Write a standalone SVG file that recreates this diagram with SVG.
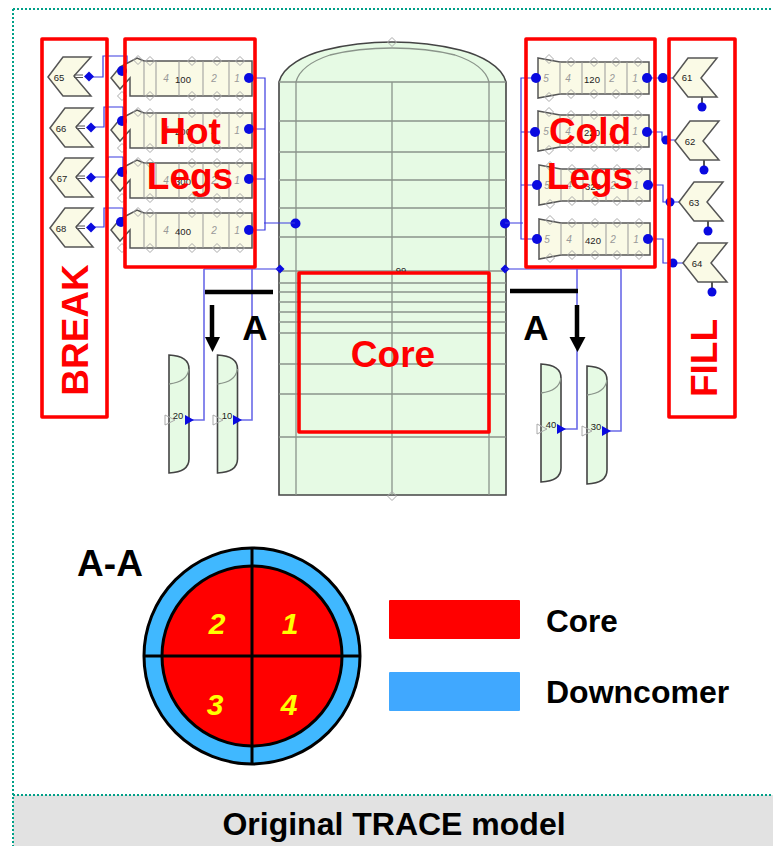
<svg xmlns="http://www.w3.org/2000/svg" xmlns:xlink="http://www.w3.org/1999/xlink" width="773" height="846" viewBox="0 0 773 846">
<style>
text{font-family:"Liberation Sans",Arial,sans-serif}
.outline{fill:#e6fae4;stroke:#444;stroke-width:1.6}
.grid{fill:none;stroke:#8a948a;stroke-width:1.3}
.pipe{fill:#fafae6;stroke:#555;stroke-width:1.5}
.cell{fill:none;stroke:#999;stroke-width:1}
.dia{fill:none;stroke:#aaa;stroke-width:1}
.wire{fill:none;stroke:#3a3ae0;stroke-width:1.2}
.wire2{fill:none;stroke:#6a6ae8;stroke-width:1.6}
.dot{fill:#0a0ae0}
.tag{font-size:9.5px;fill:#222;text-anchor:middle}
.num{font-size:10px;fill:#999;font-style:italic;text-anchor:middle}
.box{fill:none;stroke:#f00;stroke-width:3.6;stroke-linejoin:round}
.red{font-size:37px;font-weight:bold;fill:#f00;text-anchor:middle}
.blk{font-weight:bold;fill:#000}
.bar{fill:none;stroke:#000;stroke-width:4.5}
.sec{font-size:30px;font-weight:bold;font-style:italic;fill:#ff0;text-anchor:middle}
.frame{fill:none;stroke:#00a088;stroke-width:2;stroke-dasharray:2 2}
.xl{stroke:#000;stroke-width:3;fill:none}
</style>
<defs>
<path id="d" class="dia" d="M0,-4.5L4.5,0L0,4.5L-4.5,0Z"/>
<circle id="b" class="dot" r="5"/>
<g id="hot">
<path class="pipe" d="M-10,6L7,-3L14,0H122V35H0V17L-10,28L-19,17Z"/>
<path class="cell" d="M14,0V35M26,0V35M49,0V35M73,0V35M99,0V35"/>
<g>
<use href="#d" x="20" y="0"/><use href="#d" x="62" y="0"/><use href="#d" x="87" y="0"/><use href="#d" x="110" y="0"/><use href="#d" x="8" y="-1"/>
<use href="#d" x="-8" y="35"/><use href="#d" x="20" y="35"/><use href="#d" x="62" y="35"/><use href="#d" x="87" y="35"/><use href="#d" x="110" y="35"/>
</g>
<text class="num" x="36" y="21">4</text><text class="num" x="84" y="21">2</text><text class="num" x="107" y="21">1</text>
</g>
<g id="cold">
<path class="pipe" d="M0,0L22,4H111V36H22L0,40Z"/>
<path class="cell" d="M22,4V36M44,4V36M67,4V36M89,4V36"/>
<use href="#d" x="11" y="1"/><use href="#d" x="33" y="4"/><use href="#d" x="56" y="4"/><use href="#d" x="78" y="4"/><use href="#d" x="100" y="4"/>
<use href="#d" x="11" y="39"/><use href="#d" x="33" y="36"/><use href="#d" x="56" y="36"/><use href="#d" x="78" y="36"/><use href="#d" x="100" y="36"/>
<text class="num" x="8" y="24">5</text><text class="num" x="30" y="24">4</text><text class="num" x="74" y="24">2</text><text class="num" x="97" y="24">1</text>
</g>
<g id="brk">
<path class="pipe" d="M0,20L15,0H43L26,19L43,39H15Z"/>
<path d="M26,18H35M26,20.500H35" fill="none" stroke="#555" stroke-width="1"/>
<path class="dot" d="M41,14.500L46,19.500L41,24.500L36,19.500Z"/>
</g>
<g id="fil">
<path class="pipe" d="M0,20L15,0H44L28,20L44,39H15Z"/>
<path d="M29,39V47" fill="none" stroke="#555" stroke-width="2"/>
<circle class="dot" cx="29" cy="49" r="4.500"/>
</g>
<g id="tank">
<path class="outline" d="M0,0Q20,1 20,14V104Q20,117 0,118Z"/>
<path class="grid" d="M0,29Q18,27 20,14"/>
</g>
<g id="tri">
<path d="M-20,-5V5L-10,0Z" fill="none" stroke="#aaa"/>
<path class="dot" d="M0,-5V5L9,0Z"/>
</g>
</defs>

<g id="vessel">
<path class="outline" d="M279,495V82C283,66 305,55 325,50C345,45 370,42 392,42C414,42 440,45 460,50C480,55 502,66 506,82V495Z"/>
<path class="grid" d="M296,495V82C299,70 312,61 330,55C350,50 372,48 392,48C412,48 435,50 455,55C473,61 486,70 489,82V495"/>
<path class="grid" d="M392,82V495M279,82H506M279,121H506M279,152H506M279,180H506M279,208H506M279,237H506M279,271H506M279,283H506M279,292H506M279,302H506M279,312H506M279,322H506M279,333H506M279,364H506M279,394H506M279,437H506"/>
<use href="#d" x="392" y="42"/><use href="#d" x="392" y="496"/>
<text class="tag" x="401" y="274">99</text>
<use href="#b" x="295.500" y="223.500"/><use href="#b" x="505" y="223.500"/>
<path class="dot" d="M280,264.500L284.500,269L280,273.500L275.500,269Z"/>
<path class="dot" d="M505,264.500L509.500,269L505,273.500L500.500,269Z"/>
</g>

<g id="connectors">
<path class="wire" d="M92,77H103V56H127V71M94,127H104V107H123V121M94,177H108V157H123V172M94,227H104V208H123V222"/>
<path class="wire" d="M249,78H265V230H249M249,129H265M249,179H265M264,223H295"/>
<path class="wire" d="M204,269H280M505,269H621"/>
<path class="wire2" d="M204,269V420H190M252,269V420H238"/>
<path class="wire2" d="M577,269V429H562M621,269V431H607"/>
<path class="wire" d="M536,78H521V239H537M535,132H521M537,185H521M505,223H523"/>
<path class="wire" d="M647,78H673M647,132H662V140H675M648,185H663V202H679M648,239H663V263H683"/>
</g>

<g id="pipe-100"><use href="#hot" x="130" y="61"/><text class="tag" x="183" y="83">100</text><use href="#b" x="122" y="71"/><use href="#b" x="249" y="78"/></g>
<g id="pipe-200"><use href="#hot" x="130" y="113"/><text class="tag" x="183" y="135">200</text><use href="#b" x="122" y="121"/><use href="#b" x="249" y="129"/></g>
<g id="pipe-300"><use href="#hot" x="130" y="163"/><text class="tag" x="183" y="185">300</text><use href="#b" x="122" y="172"/><use href="#b" x="249" y="179"/></g>
<g id="pipe-400"><use href="#hot" x="130" y="213"/><text class="tag" x="183" y="235">400</text><use href="#b" x="121" y="222"/><use href="#b" x="249" y="230"/></g>

<g id="pipe-120"><use href="#cold" x="538" y="58"/><text class="tag" x="592" y="83">120</text><use href="#b" x="536" y="78"/><use href="#b" x="647" y="78"/></g>
<g id="pipe-220"><use href="#cold" x="538" y="111"/><text class="tag" x="592" y="136">220</text><use href="#b" x="535" y="132"/><use href="#b" x="647" y="132"/></g>
<g id="pipe-320"><use href="#cold" x="539" y="165"/><text class="tag" x="593" y="190">320</text><use href="#b" x="537" y="185"/><use href="#b" x="648" y="185"/></g>
<g id="pipe-420"><use href="#cold" x="539" y="219"/><text class="tag" x="593" y="244">420</text><use href="#b" x="537" y="239"/><use href="#b" x="648" y="239"/></g>

<g id="break-65"><use href="#brk" x="48" y="57"/><text class="tag" x="59" y="81">65</text></g>
<g id="break-66"><use href="#brk" x="50" y="108"/><text class="tag" x="61" y="132">66</text></g>
<g id="break-67"><use href="#brk" x="50" y="158"/><text class="tag" x="62" y="182">67</text></g>
<g id="break-68"><use href="#brk" x="50" y="208"/><text class="tag" x="61" y="232">68</text></g>

<g id="fill-61"><use href="#fil" x="673" y="58"/><text class="tag" x="687" y="81">61</text><use href="#b" x="663" y="78"/></g>
<g id="fill-62"><use href="#fil" x="675" y="121"/><text class="tag" x="690" y="145">62</text><circle class="dot" cx="666" cy="140" r="4.500"/></g>
<g id="fill-63"><use href="#fil" x="679" y="182"/><text class="tag" x="694" y="206">63</text><circle class="dot" cx="670" cy="202" r="4.500"/></g>
<g id="fill-64"><use href="#fil" x="683" y="243"/><text class="tag" x="697" y="267">64</text><circle class="dot" cx="673" cy="263" r="4.500"/></g>

<g id="tank-20"><use href="#tank" x="169" y="355"/><use href="#tri" x="185" y="420"/><text class="tag" x="178" y="419">20</text></g>
<g id="tank-10"><use href="#tank" x="217.500" y="355"/><use href="#tri" x="233" y="420"/><text class="tag" x="227" y="419">10</text></g>
<g id="tank-40"><use href="#tank" x="541" y="364"/><use href="#tri" x="557" y="429"/><text class="tag" x="551" y="428">40</text></g>
<g id="tank-30"><use href="#tank" x="587" y="366"/><use href="#tri" x="602" y="431"/><text class="tag" x="596" y="430">30</text></g>

<g id="section-marks">
<path class="bar" d="M205,292H273M510,291H578M212,305V340M577,305V340"/>
<path d="M205,337H220L212.500,352Z"/>
<path d="M569.500,337H585.500L577.500,352Z"/>
<text class="blk" x="255" y="340" font-size="35" text-anchor="middle">A</text>
<text class="blk" x="536" y="340" font-size="35" text-anchor="middle">A</text>
</g>

<g id="break-box"><rect class="box" x="42" y="39" width="65" height="378"/><text class="red" transform="translate(88,330) rotate(-90)">BREAK</text></g>
<g id="hot-box"><rect class="box" x="125" y="39" width="130" height="228"/><text class="red" x="190" y="144">Hot</text><text class="red" x="190" y="189">Legs</text></g>
<g id="cold-box"><rect class="box" x="526" y="39" width="129" height="228"/><text class="red" x="590" y="144">Cold</text><text class="red" x="590" y="189">Legs</text></g>
<g id="fill-box"><rect class="box" x="669" y="39" width="66" height="378"/><text class="red" transform="translate(717,358) rotate(-90)">FILL</text></g>
<g id="core-box"><rect class="box" x="299" y="273" width="190" height="159"/><text class="red" x="393" y="367">Core</text></g>

<g id="section-aa">
<text class="blk" x="110" y="576" font-size="37" text-anchor="middle">A-A</text>
<circle cx="252" cy="656" r="108" fill="#40b8ff" stroke="#000" stroke-width="3"/>
<circle cx="252" cy="656" r="90" fill="#f00" stroke="#000" stroke-width="3"/>
<path class="xl" d="M252,548V765M144,656H360"/>
<text class="sec" x="217" y="634">2</text>
<text class="sec" x="290" y="634">1</text>
<text class="sec" x="215" y="715">3</text>
<text class="sec" x="289" y="715">4</text>
</g>

<g id="legend">
<rect x="389" y="600" width="131" height="39" rx="1" fill="#f00"/>
<rect x="389" y="672" width="131" height="39" rx="1" fill="#40a8ff"/>
<text class="blk" x="546" y="632" font-size="31.500">Core</text>
<text class="blk" x="546" y="703" font-size="32">Downcomer</text>
</g>

<g id="footer">
<rect x="13" y="795" width="760" height="51" fill="#e2e2e2"/>
<path class="frame" d="M13,9H773M13,795H773M13,9V846"/>
<text class="blk" x="394" y="835" font-size="32" text-anchor="middle">Original TRACE model</text>
</g>
</svg>
